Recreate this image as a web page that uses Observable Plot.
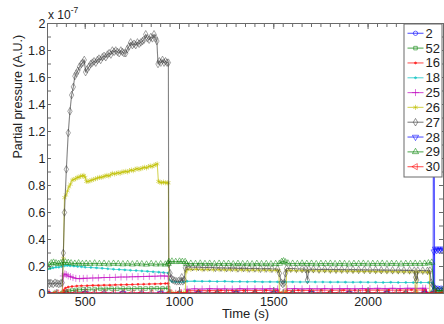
<!DOCTYPE html>
<html><head><meta charset="utf-8">
<script src="https://cdn.jsdelivr.net/npm/d3@7"></script>
<script src="https://cdn.jsdelivr.net/npm/@observablehq/plot@0.6"></script>
<style>body{margin:0;background:#fff;} #chart{width:444px;height:324px;}</style>
</head><body><div id="chart"></div>
<script>
// Series names (legend), colours, markers
const names = ["2","52","16","18","25","26","27","28","29","30"];
const colors = ["#0000ff","#008000","#ff0000","#00bfbf","#bf00bf","#bfbf00","#404040","#0000ff","#008000","#ff0000"];
const symbols = ["circle","square","circle","circle","plus","asterisk","diamond","triangle","triangle","triangle"];
const rotations = [0,0,0,0,0,0,0,180,0,270];
const markerR = [2.2,2.0,1.0,1.0,2.4,2.4,2.3,2.3,2.3,2.3];
const markerFill = [false,false,true,true,false,false,false,false,false,false];

// Values: [time (s), partial pressure in units of 1e-7]
const s2 = [[300,0.002],[400,0.003],[500,0.002],[600,0.003],[700,0.002],[800,0.003],[900,0.002],[1000,0.003],[1100,0.002],[1200,0.003],[1300,0.002],[1400,0.003],[1500,0.002],[1600,0.003],[1700,0.002],[1800,0.003],[1900,0.002],[2000,0.003],[2100,0.002],[2200,0.003],[2300,0.002],[2345,0.003],[2348,3.0],[2353,0.045],[2362,0.035],[2370,0.04],[2378,0.035],[2388,0.04],[2400,0.035]];
const s52 = [[300,0.003],[340,0.004],[378,0.003],[386,0.008],[400,0.013],[415,0.018],[430,0.022],[450,0.026],[470,0.028],[490,0.03],[520,0.032],[550,0.033],[580,0.035],[610,0.034],[640,0.036],[670,0.035],[700,0.037],[730,0.036],[760,0.037],[790,0.038],[820,0.037],[850,0.038],[880,0.039],[910,0.038],[940,0.04],[944,0.004],[1000,0.003],[1100,0.004],[1200,0.003],[1300,0.004],[1400,0.003],[1500,0.004],[1600,0.003],[1700,0.004],[1800,0.003],[1900,0.004],[2000,0.003],[2100,0.004],[2200,0.003],[2300,0.004],[2400,0.003]];
const s16 = [[300,0.003],[340,0.004],[378,0.003],[385,0.025],[395,0.04],[410,0.048],[430,0.052],[455,0.055],[480,0.057],[510,0.058],[540,0.06],[570,0.06],[600,0.062],[630,0.062],[660,0.064],[690,0.065],[720,0.066],[750,0.067],[780,0.068],[810,0.069],[840,0.07],[870,0.071],[900,0.072],[925,0.074],[940,0.075],[944,0.003],[1000,0.004],[1036,0.003],[1040,0.02],[1100,0.022],[1160,0.021],[1220,0.023],[1280,0.022],[1340,0.023],[1400,0.022],[1460,0.024],[1520,0.023],[1530,0.003],[1565,0.003],[1570,0.022],[1630,0.024],[1690,0.023],[1750,0.025],[1810,0.024],[1870,0.025],[1930,0.024],[1990,0.026],[2050,0.025],[2110,0.026],[2170,0.025],[2230,0.027],[2290,0.026],[2305,0.025],[2310,0.004],[2400,0.004]];
const s18 = [[300,0.18],[315,0.185],[330,0.19],[345,0.195],[360,0.195],[375,0.2],[390,0.205],[405,0.208],[420,0.205],[440,0.203],[460,0.2],[480,0.198],[500,0.195],[530,0.193],[560,0.19],[590,0.187],[620,0.183],[650,0.18],[680,0.178],[710,0.175],[740,0.172],[770,0.17],[800,0.167],[830,0.164],[860,0.161],[890,0.158],[915,0.155],[940,0.152],[946,0.1],[960,0.088],[980,0.085],[1000,0.084],[1020,0.086],[1040,0.09],[1080,0.092],[1120,0.09],[1160,0.091],[1200,0.089],[1240,0.09],[1280,0.088],[1320,0.089],[1360,0.087],[1400,0.088],[1440,0.086],[1480,0.087],[1520,0.086],[1560,0.087],[1600,0.086],[1640,0.085],[1680,0.086],[1720,0.085],[1760,0.085],[1800,0.084],[1840,0.085],[1880,0.084],[1920,0.083],[1960,0.084],[2000,0.083],[2040,0.083],[2080,0.082],[2120,0.083],[2160,0.082],[2200,0.082],[2240,0.081],[2280,0.082],[2320,0.081],[2340,0.08],[2350,0.03],[2370,0.02],[2400,0.02]];
const s25 = [[300,0.002],[340,0.003],[378,0.002],[384,0.13],[392,0.145],[400,0.14],[410,0.13],[422,0.125],[435,0.118],[450,0.112],[470,0.11],[490,0.112],[510,0.113],[540,0.115],[570,0.116],[600,0.118],[630,0.119],[660,0.12],[690,0.122],[720,0.122],[750,0.124],[780,0.125],[810,0.126],[840,0.127],[870,0.128],[900,0.13],[920,0.13],[940,0.128],[944,0.003],[980,0.002],[1010,0.003],[1036,0.003],[1040,0.032],[1080,0.035],[1120,0.033],[1160,0.036],[1200,0.034],[1240,0.035],[1280,0.033],[1320,0.036],[1360,0.034],[1400,0.035],[1440,0.034],[1480,0.036],[1520,0.034],[1530,0.003],[1565,0.003],[1570,0.035],[1610,0.036],[1650,0.034],[1690,0.036],[1730,0.035],[1770,0.037],[1810,0.035],[1850,0.036],[1890,0.037],[1930,0.035],[1970,0.037],[2010,0.036],[2050,0.038],[2090,0.036],[2130,0.038],[2170,0.037],[2210,0.039],[2250,0.038],[2290,0.039],[2305,0.038],[2310,0.003],[2350,0.002],[2400,0.003]];
const s26 = [[300,0.005],[340,0.006],[378,0.005],[384,0.26],[390,0.71],[398,0.73],[406,0.76],[414,0.79],[422,0.81],[431,0.84],[440,0.845],[449,0.85],[458,0.86],[467,0.86],[476,0.87],[485,0.87],[493,0.875],[500,0.86],[506,0.83],[515,0.83],[525,0.835],[535,0.84],[545,0.845],[555,0.85],[565,0.855],[575,0.86],[585,0.86],[595,0.865],[605,0.87],[615,0.875],[625,0.87],[635,0.88],[644,0.89],[655,0.885],[665,0.89],[675,0.895],[685,0.89],[695,0.9],[705,0.9],[715,0.905],[725,0.9],[735,0.91],[745,0.915],[755,0.91],[765,0.92],[775,0.925],[785,0.92],[795,0.925],[805,0.93],[815,0.935],[825,0.93],[835,0.94],[845,0.945],[855,0.94],[865,0.95],[874,0.955],[882,0.96],[888,0.83],[896,0.825],[905,0.82],[915,0.825],[925,0.82],[935,0.82],[941,0.82],[944,0.005],[960,0.005],[980,0.004],[1000,0.005],[1020,0.004],[1031,0.005],[1034,0.16],[1040,0.18],[1060,0.178],[1090,0.18],[1120,0.177],[1150,0.178],[1180,0.176],[1210,0.177],[1240,0.175],[1270,0.176],[1300,0.174],[1330,0.175],[1360,0.173],[1390,0.174],[1420,0.172],[1450,0.173],[1480,0.171],[1510,0.172],[1527,0.17],[1530,0.005],[1545,0.004],[1560,0.005],[1565,0.005],[1568,0.17],[1590,0.171],[1620,0.169],[1650,0.17],[1680,0.168],[1710,0.169],[1740,0.167],[1770,0.168],[1800,0.166],[1830,0.167],[1860,0.165],[1890,0.166],[1920,0.164],[1950,0.165],[1980,0.163],[2010,0.164],[2040,0.162],[2070,0.163],[2100,0.161],[2130,0.162],[2160,0.16],[2190,0.161],[2220,0.159],[2248,0.16],[2251,0.005],[2258,0.005],[2262,0.16],[2290,0.159],[2315,0.158],[2325,0.158],[2328,0.005],[2360,0.004],[2400,0.005]];
const s27 = [[300,0.08],[310,0.07],[320,0.075],[330,0.07],[340,0.08],[350,0.075],[360,0.07],[370,0.075],[378,0.08],[384,0.3],[390,0.6],[400,0.92],[410,1.19],[419,1.35],[428,1.47],[437,1.53],[445,1.61],[453,1.63],[461,1.65],[470,1.68],[479,1.7],[487,1.71],[495,1.73],[502,1.64],[510,1.66],[520,1.68],[529,1.7],[538,1.71],[547,1.72],[556,1.71],[565,1.73],[573,1.74],[582,1.73],[591,1.75],[600,1.76],[609,1.75],[618,1.77],[627,1.78],[636,1.77],[644,1.8],[653,1.79],[662,1.8],[671,1.79],[680,1.78],[689,1.8],[697,1.79],[706,1.78],[715,1.78],[723,1.81],[732,1.83],[741,1.86],[750,1.84],[759,1.85],[768,1.84],[777,1.86],[786,1.85],[795,1.86],[804,1.87],[812,1.88],[821,1.92],[830,1.89],[839,1.88],[848,1.9],[856,1.89],[865,1.92],[874,1.89],[880,1.87],[886,1.7],[893,1.72],[901,1.71],[910,1.73],[918,1.71],[926,1.72],[934,1.71],[941,1.71],[943,0.22],[950,0.15],[958,0.11],[966,0.1],[975,0.095],[985,0.09],[995,0.092],[1005,0.09],[1012,0.12],[1018,0.09],[1025,0.1],[1031,0.19],[1045,0.2],[1070,0.195],[1100,0.196],[1130,0.192],[1160,0.194],[1190,0.19],[1220,0.191],[1250,0.188],[1280,0.19],[1310,0.186],[1340,0.188],[1370,0.185],[1400,0.186],[1430,0.183],[1460,0.185],[1490,0.183],[1520,0.182],[1530,0.15],[1540,0.08],[1548,0.07],[1556,0.08],[1562,0.15],[1568,0.185],[1590,0.185],[1620,0.183],[1650,0.182],[1670,0.18],[1678,0.1],[1686,0.18],[1710,0.18],[1740,0.178],[1770,0.18],[1800,0.178],[1830,0.177],[1860,0.178],[1890,0.176],[1920,0.177],[1950,0.175],[1980,0.176],[2010,0.174],[2040,0.175],[2070,0.173],[2100,0.174],[2130,0.172],[2160,0.173],[2190,0.171],[2220,0.172],[2245,0.17],[2252,0.12],[2258,0.1],[2264,0.17],[2290,0.17],[2315,0.168],[2328,0.17],[2335,0.08],[2345,0.06],[2355,0.03],[2370,0.02],[2400,0.02]];
const s28 = [[300,0.001],[500,0.002],[700,0.001],[900,0.002],[1100,0.001],[1300,0.002],[1500,0.001],[1700,0.002],[1900,0.001],[2100,0.002],[2300,0.001],[2346,0.002],[2350,0.31],[2357,0.33],[2364,0.32],[2371,0.33],[2378,0.32],[2385,0.33],[2392,0.32],[2400,0.33]];
const s29 = [[300,0.195],[310,0.21],[320,0.225],[332,0.23],[345,0.225],[358,0.22],[370,0.225],[382,0.23],[395,0.232],[410,0.228],[425,0.225],[445,0.222],[465,0.225],[485,0.22],[505,0.222],[525,0.22],[550,0.224],[575,0.22],[600,0.222],[625,0.218],[650,0.222],[675,0.22],[700,0.218],[725,0.22],[750,0.217],[775,0.22],[800,0.218],[825,0.216],[850,0.22],[875,0.217],[900,0.218],[925,0.216],[940,0.22],[944,0.235],[960,0.238],[980,0.235],[1000,0.238],[1015,0.236],[1030,0.235],[1036,0.22],[1060,0.222],[1085,0.22],[1110,0.223],[1135,0.22],[1160,0.222],[1185,0.219],[1210,0.222],[1235,0.22],[1260,0.221],[1285,0.218],[1310,0.221],[1335,0.219],[1360,0.22],[1385,0.218],[1410,0.221],[1435,0.219],[1460,0.22],[1485,0.218],[1510,0.22],[1530,0.222],[1542,0.235],[1552,0.24],[1562,0.232],[1575,0.224],[1600,0.222],[1625,0.22],[1650,0.223],[1675,0.221],[1700,0.222],[1725,0.219],[1750,0.221],[1775,0.22],[1800,0.222],[1825,0.219],[1850,0.221],[1875,0.22],[1900,0.218],[1925,0.221],[1950,0.22],[1975,0.222],[2000,0.219],[2025,0.221],[2050,0.22],[2075,0.222],[2100,0.219],[2125,0.221],[2150,0.22],[2175,0.218],[2200,0.221],[2225,0.22],[2250,0.222],[2275,0.22],[2300,0.222],[2320,0.225],[2338,0.23],[2350,0.03],[2370,0.02],[2390,0.025],[2400,0.02]];
const s30 = [[300,0.006],[350,0.004],[400,0.007],[450,0.005],[500,0.008],[550,0.005],[600,0.007],[650,0.004],[700,0.006],[750,0.005],[800,0.007],[850,0.004],[900,0.006],[950,0.005],[1000,0.007],[1050,0.005],[1100,0.006],[1150,0.004],[1200,0.007],[1250,0.005],[1300,0.006],[1350,0.004],[1400,0.007],[1450,0.005],[1500,0.006],[1550,0.005],[1600,0.007],[1650,0.004],[1700,0.006],[1750,0.005],[1800,0.007],[1850,0.005],[1900,0.006],[1950,0.004],[2000,0.007],[2050,0.005],[2100,0.006],[2150,0.005],[2200,0.007],[2250,0.004],[2300,0.006],[2350,0.005],[2400,0.006]];
const series = [s2,s52,s16,s18,s25,s26,s27,s28,s29,s30];

// Axis ticks
const xTicks = [500,1000,1500,2000];
const yTicks = [0,0.2,0.4,0.6,0.8,1,1.2,1.4,1.6,1.8,2];
const xMinor = d3.range(350, 2400, 50);
const yMinor = d3.range(1, 20).map(d => d / 10);

const W = 444, H = 324, mL = 47, mR = 1, mT = 23, mB = 31;
const fw = W - mL - mR, fh = H - mT - mB;
const axisColor = "#6a6a6a";

const marks = [];
series.forEach((s, i) => {
  marks.push(Plot.line(s, {x: d => d[0], y: d => d[1], stroke: colors[i], strokeWidth: 1.1, strokeOpacity: 0.65, clip: true}));
  marks.push(Plot.dot(s, {x: d => d[0], y: d => d[1], symbol: symbols[i], r: markerR[i], rotate: rotations[i],
    stroke: colors[i], strokeOpacity: 0.6, strokeWidth: 0.8, fill: markerFill[i] ? colors[i] : "none", fillOpacity: 0.6, clip: true}));
});

const chart = Plot.plot({
  width: W, height: H,
  marginLeft: mL, marginRight: mR, marginTop: mT, marginBottom: mB,
  style: {fontFamily: "'Liberation Sans', Arial, sans-serif", fontSize: "12.5px", background: "white", color: "#222"},
  x: {domain: [300, 2400]},
  y: {domain: [0, 2]},
  marks: [
    ...marks,
    Plot.frame({stroke: axisColor}),
    // inward ticks (MATLAB style)
    Plot.tickX(xMinor, {x: d => d, insetTop: fh - 4, stroke: axisColor}),
    Plot.tickX(xMinor, {x: d => d, insetBottom: fh - 4, stroke: axisColor}),
    Plot.tickX(xTicks, {x: d => d, insetTop: fh - 6, stroke: axisColor}),
    Plot.tickX(xTicks, {x: d => d, insetBottom: fh - 6, stroke: axisColor}),
    Plot.tickY(yMinor, {y: d => d, insetRight: fw - 4, stroke: axisColor}),
    Plot.tickY(yMinor, {y: d => d, insetLeft: fw - 4, stroke: axisColor}),
    Plot.axisX({ticks: xTicks, tickSize: 0, tickPadding: 4, label: null, tickFormat: d => String(d)}),
    Plot.axisY({ticks: yTicks, tickSize: 0, tickPadding: 2, label: null, tickFormat: d => String(d)}),
    Plot.text(["Time (s)"], {frameAnchor: "bottom", dy: 24, fontSize: 13}),
    Plot.text(["Partial pressure (A.U.)"], {frameAnchor: "left", rotate: -90, dx: -30, fontSize: 12.5})
  ]
});
document.getElementById("chart").appendChild(chart);

const svg = d3.select(chart);
// exponent label
const ex = svg.append("text").attr("x", mL + 1).attr("y", 19).attr("font-size", 12)
  .attr("text-anchor", "start").attr("fill", "#222");
ex.append("tspan").text("x 10");
ex.append("tspan").attr("dy", -6).attr("font-size", 8.5).text("-7");

// legend
const lg = svg.append("g").attr("text-anchor", "start");
const lx = 404, ly = 24, lw = 38, step = 14.82;
lg.append("rect").attr("x", lx).attr("y", ly).attr("width", lw).attr("height", 153)
  .attr("fill", "white").attr("stroke", axisColor);
const symMap = {circle: d3.symbolCircle, square: d3.symbolSquare, plus: d3.symbolPlus, asterisk: d3.symbolAsterisk, diamond: d3.symbolDiamond, triangle: d3.symbolTriangle};
names.forEach((n, i) => {
  const cy = 33.3 + i * step;
  lg.append("line").attr("x1", lx + 3.5).attr("x2", lx + 19.5).attr("y1", cy).attr("y2", cy)
    .attr("stroke", colors[i]).attr("stroke-opacity", 0.6).attr("stroke-width", 1.2);
  lg.append("path").attr("d", d3.symbol(symMap[symbols[i]], markerR[i] * markerR[i] * Math.PI)())
    .attr("transform", `translate(${lx + 11.5},${cy}) rotate(${rotations[i]})`)
    .attr("fill", markerFill[i] ? colors[i] : "none").attr("fill-opacity", 0.6)
    .attr("stroke", colors[i]).attr("stroke-opacity", 0.7).attr("stroke-width", 0.8);
  lg.append("text").attr("x", lx + 21.5).attr("y", cy).attr("dy", "0.35em").attr("font-size", 13)
    .attr("text-anchor", "start").attr("fill", "#222").text(n);
});
</script>
</body></html>
